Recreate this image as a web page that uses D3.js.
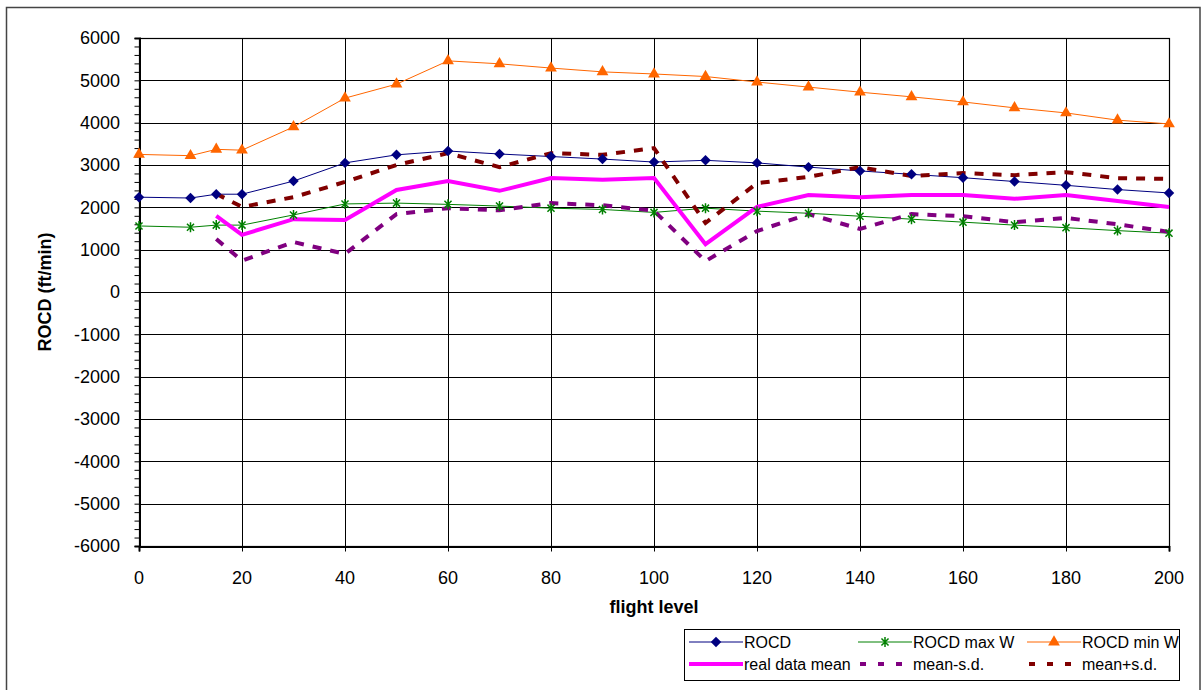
<!DOCTYPE html>
<html><head><meta charset="utf-8">
<script src="https://cdn.jsdelivr.net/npm/d3@7"></script>
<style>body{margin:0;background:#fff;} text{font-family:"Liberation Sans",Arial,sans-serif;}</style>
</head><body><svg id="c" width="1201" height="690"></svg>
<script>
const flightLevels = [0,10,15,20,30,40,50,60,70,80,90,100,110,120,130,140,150,160,170,180,190,200];
const rocd     = [2240,2220,2310,2310,2620,3050,3240,3330,3260,3200,3140,3070,3110,3050,2950,2860,2780,2700,2610,2520,2420,2340];
const rocdMaxW = [1560,1530,1580,1580,1820,2080,2100,2070,2030,1980,1950,1880,1980,1910,1860,1790,1720,1650,1580,1520,1450,1390];
const rocdMinW = [3250,3220,3370,3350,3900,4580,4910,5460,5390,5290,5200,5150,5090,4960,4840,4720,4610,4490,4350,4230,4060,3970];
const meanLevels = [15,20,30,40,50,60,70,80,90,100,110,120,130,140,150,160,170,180,190,200];
const realMean = [1800,1350,1720,1700,2410,2620,2390,2690,2650,2690,1130,2010,2290,2240,2290,2290,2200,2290,2150,2010];
const meanMinus = [1250,740,1180,900,1840,1980,1930,2100,2050,1920,730,1440,1840,1490,1840,1790,1650,1750,1600,1420];
const meanPlus  = [2320,2010,2240,2600,3000,3280,2950,3280,3240,3400,1630,2570,2720,2950,2740,2810,2760,2830,2690,2670];
const xTicks = [0,20,40,60,80,100,120,140,160,180,200];
const yTicks = [6000,5000,4000,3000,2000,1000,0,-1000,-2000,-3000,-4000,-5000,-6000];

const svg = d3.select("#c");
const L=139,R=1169,T=38,B=546;
const x = d3.scaleLinear().domain([0,200]).range([L,R]);
const y = d3.scaleLinear().domain([-6000,6000]).range([B,T]);

svg.append("rect").attr("x",6.5).attr("y",7.5).attr("width",1193.5).attr("height",690).attr("fill","none").attr("stroke","#444").attr("stroke-width",1.5);

const g = svg.append("g");
g.selectAll(".hg").data(yTicks).join("line").attr("x1",L).attr("x2",R).attr("y1",d=>Math.round(y(d))+0.5).attr("y2",d=>Math.round(y(d))+0.5).attr("stroke","#000").attr("stroke-width",1);
g.selectAll(".vg").data(xTicks).join("line").attr("y1",T).attr("y2",B).attr("x1",d=>Math.round(x(d))+0.5).attr("x2",d=>Math.round(x(d))+0.5).attr("stroke","#000").attr("stroke-width",1);
svg.append("rect").attr("x",L+0.5).attr("y",T+0.5).attr("width",R-L).attr("height",B-T).attr("fill","none").attr("stroke","#000").attr("stroke-width",1.2);

const yAxis = d3.axisLeft(y).tickValues(d3.range(-6000,6001,200)).tickSize(5).tickFormat("");
const ya = svg.append("g").attr("transform",`translate(${L+0.5},0)`).call(yAxis);
ya.select(".domain").attr("stroke","#000").attr("stroke-width",2);
ya.selectAll(".tick line").attr("stroke","#000");
svg.append("g").selectAll("text").data(yTicks).join("text").attr("x",120).attr("y",d=>y(d)).attr("dy","0.35em").attr("text-anchor","end").attr("font-size",18).text(d=>d);

const xAxis = d3.axisBottom(x).tickValues(xTicks).tickSize(5).tickFormat("");
const xa = svg.append("g").attr("transform",`translate(0,${B+0.5})`).call(xAxis);
xa.select(".domain").attr("stroke","#000").attr("stroke-width",2);
svg.append("g").selectAll("text").data(xTicks).join("text").attr("x",d=>x(d)).attr("y",578).attr("dy","0.35em").attr("text-anchor","middle").attr("font-size",18).text(d=>d);

svg.append("text").attr("x",x(100)).attr("y",607).attr("dy","0.35em").attr("text-anchor","middle").attr("font-size",18).attr("font-weight","bold").text("flight level");
svg.append("text").attr("transform",`translate(45,${y(0)}) rotate(-90)`).attr("text-anchor","middle").attr("dy","0.35em").attr("font-size",18).attr("font-weight","bold").text("ROCD (ft/min)");

const line = d3.line().x(d=>x(d[0])).y(d=>y(d[1]));
function series(xs, ys){ return xs.map((v,i)=>[v,ys[i]]); }

svg.append("path").datum(series(flightLevels,rocdMaxW)).attr("d",line).attr("fill","none").attr("stroke","#008000").attr("stroke-width",1);
svg.append("path").datum(series(flightLevels,rocdMinW)).attr("d",line).attr("fill","none").attr("stroke","#FF6600").attr("stroke-width",1);
svg.append("path").datum(series(flightLevels,rocd)).attr("d",line).attr("fill","none").attr("stroke","#000080").attr("stroke-width",1);
svg.append("path").datum(series(meanLevels,meanPlus)).attr("d",line).attr("fill","none").attr("stroke","#800000").attr("stroke-width",4).attr("stroke-dasharray","9,9");
svg.append("path").datum(series(meanLevels,meanMinus)).attr("d",line).attr("fill","none").attr("stroke","#800080").attr("stroke-width",4).attr("stroke-dasharray","9,9");
svg.append("path").datum(series(meanLevels,realMean)).attr("d",line).attr("fill","none").attr("stroke","#FF00FF").attr("stroke-width",4);

const diamond = d3.symbol().type(d3.symbolDiamond2).size(70)();
const tri = d3.symbol().type(d3.symbolTriangle).size(60)();
function starPath(s){ let p=""; [45,135,90].forEach(a=>{const r=a*Math.PI/180; p+=`M${-s*Math.cos(r)},${-s*Math.sin(r)}L${s*Math.cos(r)},${s*Math.sin(r)}`;}); return p;}
svg.append("g").selectAll("path").data(series(flightLevels,rocdMaxW)).join("path").attr("transform",d=>`translate(${x(d[0])},${y(d[1])})`).attr("d",starPath(5)).attr("stroke","#008000").attr("stroke-width",1.5).attr("fill","none");
svg.append("g").selectAll("path").data(series(flightLevels,rocdMinW)).join("path").attr("transform",d=>`translate(${x(d[0])},${y(d[1])})`).attr("d",tri).attr("fill","#FF6600");
svg.append("g").selectAll("path").data(series(flightLevels,rocd)).join("path").attr("transform",d=>`translate(${x(d[0])},${y(d[1])})`).attr("d",diamond).attr("fill","#000080");

const lg = svg.append("g");
lg.append("rect").attr("x",684.5).attr("y",629.5).attr("width",495).attr("height",51).attr("fill","#fff").attr("stroke","#000").attr("stroke-width",1);
const legendItems = [
  {name:"ROCD",color:"#000080",w:1,marker:"d",dash:null,col:0,row:0},
  {name:"ROCD max W",color:"#008000",w:1,marker:"s",dash:null,col:1,row:0},
  {name:"ROCD min W",color:"#FF6600",w:1,marker:"t",dash:null,col:2,row:0},
  {name:"real data mean",color:"#FF00FF",w:4,marker:null,dash:null,col:0,row:1},
  {name:"mean-s.d.",color:"#800080",w:4,marker:null,dash:"6,12",col:1,row:1},
  {name:"mean+s.d.",color:"#800000",w:4,marker:null,dash:"6,12",col:2,row:1}
];
const colX=[689,858,1027], rowY=[642,664];
legendItems.forEach(it=>{
  const x0=colX[it.col], yy=rowY[it.row];
  const ln = lg.append("line").attr("x1",x0).attr("x2",x0+54).attr("y1",yy).attr("y2",yy).attr("stroke",it.color).attr("stroke-width",it.w);
  if(it.dash) ln.attr("stroke-dasharray",it.dash).attr("x1",x0+2);
  const cx=x0+27;
  if(it.marker==="d") lg.append("path").attr("transform",`translate(${cx},${yy})`).attr("d",diamond).attr("fill",it.color);
  if(it.marker==="t") lg.append("path").attr("transform",`translate(${cx},${yy})`).attr("d",tri).attr("fill",it.color);
  if(it.marker==="s") lg.append("path").attr("transform",`translate(${cx},${yy})`).attr("d",starPath(5)).attr("stroke",it.color).attr("stroke-width",1.5);
  lg.append("text").attr("x",x0+55).attr("y",yy).attr("dy","0.35em").attr("font-size",16).text(it.name);
});
</script></body></html>
